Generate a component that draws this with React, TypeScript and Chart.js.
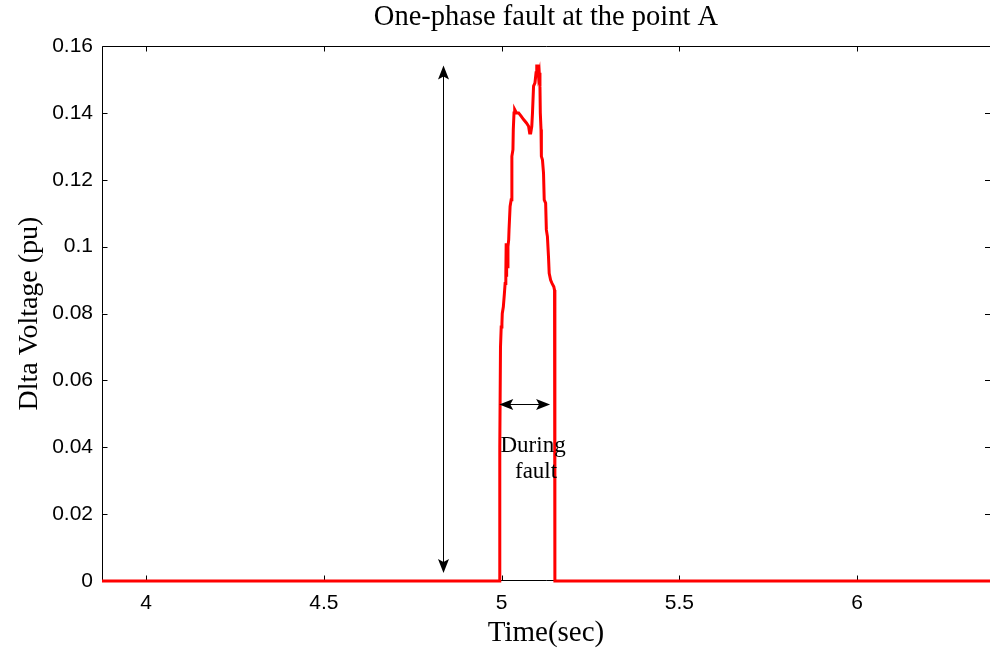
import React, { useEffect, useRef } from 'react';
import { Chart, registerables } from 'chart.js';

Chart.register(...registerables);

const chartTitle = 'One-phase fault at the point A';
const xAxisTitle = 'Time(sec)';
const yAxisTitle = 'Dlta Voltage (pu)';

const xTicks = [4, 4.5, 5, 5.5, 6];
const xTickLabels = ['4', '4.5', '5', '5.5', '6'];
const yTicks = [0, 0.02, 0.04, 0.06, 0.08, 0.1, 0.12, 0.14, 0.16];
const yTickLabels = ['0', '0.02', '0.04', '0.06', '0.08', '0.1', '0.12', '0.14', '0.16'];
const xRange = [3.876, 6.374];
const yRange = [0, 0.16];

const timeSec = [
  3.876, 4.993, 4.995, 4.997, 4.999, 5.001, 5.002, 5.005, 5.008, 5.010, 5.012,
  5.013, 5.0135, 5.014, 5.0145, 5.015, 5.016, 5.018, 5.020, 5.021, 5.024, 5.027,
  5.029, 5.032, 5.033, 5.035, 5.037, 5.042, 5.048, 5.055, 5.062, 5.070, 5.076,
  5.079, 5.082, 5.085, 5.087, 5.090, 5.094, 5.097, 5.099, 5.102, 5.104, 5.106,
  5.108, 5.109, 5.111, 5.112, 5.115, 5.118, 5.120, 5.124, 5.126, 5.129, 5.132,
  5.134, 5.138, 5.142, 5.147, 5.149, 5.150, 6.374,
];
const deltaVoltage = [
  0, 0, 0.040, 0.070, 0.076, 0.077, 0.080, 0.082, 0.086, 0.089, 0.092,
  0.101, 0.091, 0.100, 0.092, 0.101, 0.094, 0.100, 0.102, 0.105, 0.112, 0.114,
  0.127, 0.129, 0.135, 0.140, 0.141, 0.140, 0.140, 0.139, 0.138, 0.137, 0.136,
  0.134, 0.134, 0.136, 0.140, 0.148, 0.149, 0.152, 0.154, 0.154, 0.151, 0.152,
  0.148, 0.140, 0.135, 0.127, 0.126, 0.122, 0.114, 0.113, 0.105, 0.103, 0.097,
  0.092, 0.090, 0.089, 0.088, 0.087, 0, 0,
];

// annotations (data coordinates)
const spanArrowX = 4.836;
const spanArrowY = [0.0024, 0.1542];
const faultArrowY = 0.0529;
const faultArrowX = [4.9935, 5.1365];
const faultLabelLines = ['During', 'fault'];
const faultLabelX = [5.0886, 5.097];
const faultLabelY = [0.0403, 0.0325];

const SERIF = '"Liberation Serif", "Times New Roman", serif';
const SANS = '"Liberation Sans", Arial, sans-serif';

function drawHead(ctx: CanvasRenderingContext2D, tx: number, ty: number, dx: number, dy: number) {
  const L = 14, W = 5.5, N = 3;
  const px = -dy, py = dx;
  const bx = tx - dx * L, by = ty - dy * L;
  ctx.beginPath();
  ctx.moveTo(tx, ty);
  ctx.lineTo(bx + px * W, by + py * W);
  ctx.lineTo(tx - dx * (L - N), ty - dy * (L - N));
  ctx.lineTo(bx - px * W, by - py * W);
  ctx.closePath();
  ctx.fill();
}

const framePlugin = {
  id: 'matlabFrame',
  beforeDatasetsDraw(chart: any) {
    const { ctx, chartArea: a, scales } = chart;
    const x = scales.x, y = scales.y;
    ctx.save();
    ctx.strokeStyle = '#000';
    ctx.lineWidth = 1;
    ctx.beginPath();
    const l = Math.round(a.left) + 0.5;
    const t = Math.round(a.top) + 0.5;
    const b = Math.round(a.bottom) - 0.5;
    const r = a.right;
    ctx.moveTo(l, b);
    ctx.lineTo(l, t);
    ctx.lineTo(r, t);
    ctx.moveTo(l, b);
    ctx.lineTo(r, b);
    const tl = 5;
    xTicks.forEach((v) => {
      const p = Math.round(x.getPixelForValue(v)) + 0.5;
      ctx.moveTo(p, b);
      ctx.lineTo(p, b - tl);
      ctx.moveTo(p, t);
      ctx.lineTo(p, t + tl);
    });
    yTicks.forEach((v) => {
      const p = Math.round(y.getPixelForValue(v)) + 0.5;
      ctx.moveTo(l, p);
      ctx.lineTo(l + tl, p);
      ctx.moveTo(r, p);
      ctx.lineTo(r - tl, p);
    });
    ctx.stroke();
    ctx.restore();
  },
  afterDatasetsDraw(chart: any) {
    const { ctx, chartArea: a, scales } = chart;
    const x = scales.x, y = scales.y;
    ctx.save();
    // title
    ctx.fillStyle = '#000';
    ctx.font = `28.5px ${SERIF}`;
    ctx.textAlign = 'center';
    ctx.textBaseline = 'middle';
    ctx.fillText(chartTitle, (a.left + a.right) / 2, 18);

    // vertical span arrow
    ctx.strokeStyle = '#000';
    ctx.lineWidth = 1;
    const vx = Math.round(x.getPixelForValue(spanArrowX)) + 0.5;
    const vy0 = y.getPixelForValue(spanArrowY[0]);
    const vy1 = y.getPixelForValue(spanArrowY[1]);
    ctx.beginPath();
    ctx.moveTo(vx, vy0 - 10);
    ctx.lineTo(vx, vy1 + 10);
    ctx.stroke();
    drawHead(ctx, vx, vy1, 0, -1);
    drawHead(ctx, vx, vy0, 0, 1);

    // horizontal fault arrow
    const hy = Math.round(y.getPixelForValue(faultArrowY)) + 0.5;
    const hx0 = x.getPixelForValue(faultArrowX[0]);
    const hx1 = x.getPixelForValue(faultArrowX[1]);
    ctx.beginPath();
    ctx.moveTo(hx0 + 10, hy);
    ctx.lineTo(hx1 - 10, hy);
    ctx.stroke();
    drawHead(ctx, hx0, hy, -1, 0);
    drawHead(ctx, hx1, hy, 1, 0);

    // label
    ctx.font = `23px ${SERIF}`;
    faultLabelLines.forEach((s, i) => {
      ctx.fillText(s, x.getPixelForValue(faultLabelX[i]), y.getPixelForValue(faultLabelY[i]));
    });
    ctx.restore();
  },
};

export default function App() {
  const ref = useRef<HTMLCanvasElement>(null);
  useEffect(() => {
    document.body.style.margin = '0';
    const canvas = ref.current!;
    const chart = new Chart(canvas, {
      type: 'line',
      data: {
        datasets: [
          {
            data: timeSec.map((t, i) => ({ x: t, y: deltaVoltage[i] })),
            borderColor: '#ff0000',
            borderWidth: 3,
            pointRadius: 0,
            tension: 0,
            fill: false,
            clip: false as any,
          },
        ],
      },
      options: {
        animation: false,
        responsive: false,
        devicePixelRatio: 1,
        layout: { padding: { top: 46, right: 1, left: 0, bottom: 0 } },
        plugins: {
          legend: { display: false },
          tooltip: { enabled: false },
          title: { display: false },
        },
        scales: {
          x: {
            type: 'linear',
            min: xRange[0],
            max: xRange[1],
            afterBuildTicks: (s: any) => {
              s.ticks = xTicks.map((v) => ({ value: v }));
            },
            afterFit: (s: any) => {
              s.height = 72;
            },
            grid: { display: false, drawTicks: false },
            border: { display: false },
            ticks: {
              color: '#000',
              font: { family: SANS, size: 21 },
              padding: 10,
              maxRotation: 0,
              autoSkip: false,
              callback: (v: any) => {
                const i = xTicks.findIndex((t) => Math.abs(t - v) < 1e-9);
                return i >= 0 ? xTickLabels[i] : '';
              },
            },
            title: {
              display: true,
              text: xAxisTitle,
              color: '#000',
              font: { family: SERIF, size: 29 },
              padding: { top: 0, bottom: 2 },
            },
          },
          y: {
            type: 'linear',
            min: yRange[0],
            max: yRange[1],
            afterBuildTicks: (s: any) => {
              s.ticks = yTicks.map((v) => ({ value: v }));
            },
            afterFit: (s: any) => {
              s.width = 102;
            },
            grid: { display: false, drawTicks: false },
            border: { display: false },
            ticks: {
              color: '#000',
              font: { family: SANS, size: 21 },
              padding: 9,
              autoSkip: false,
              callback: (v: any) => {
                const i = yTicks.findIndex((t) => Math.abs(t - v) < 1e-9);
                return i >= 0 ? yTickLabels[i] : '';
              },
            },
            title: {
              display: true,
              text: yAxisTitle,
              color: '#000',
              font: { family: SERIF, size: 28 },
              padding: { top: 13, bottom: 0 },
            },
          },
        },
      },
      plugins: [framePlugin],
    });
    return () => chart.destroy();
  }, []);
  return (
    <div style={{ position: 'absolute', left: 0, top: 0, width: 991, height: 653 }}>
      <canvas ref={ref} width={991} height={653} style={{ width: 991, height: 653 }} />
    </div>
  );
}
